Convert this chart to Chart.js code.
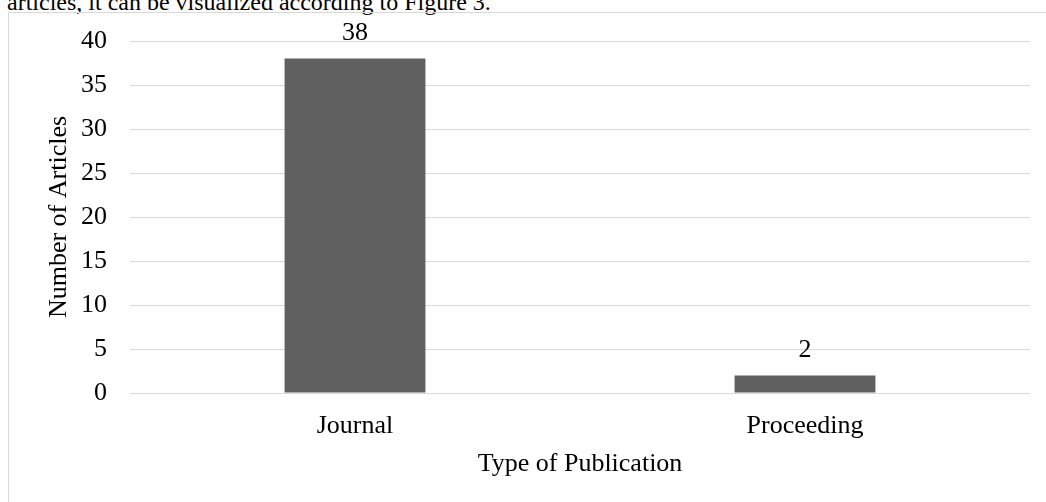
<!DOCTYPE html>
<html>
<head>
<meta charset="utf-8">
<script src="https://cdn.jsdelivr.net/npm/chart.js"></script>
<style>
    html, body { margin: 0; padding: 0; background: #fff; overflow: hidden; }
    body { width: 1046px; height: 502px; position: relative; }
    .lead {
        position: absolute; left: 7px; top: -10px;
        font: 24px/24px "Liberation Serif", "Times New Roman", serif;
        color: #000; white-space: nowrap;
    }
    .frame {
        position: absolute; left: 8px; top: 12px; width: 1100px; height: 600px;
        border-top: 1px solid #d9d9d9; border-left: 1px solid #d9d9d9;
    }
    #chartPublicaciones { position: absolute; left: 0; top: 0; }
</style>
</head>
<body>
<div class="lead">articles, it can be visualized according to Figure 3.</div>
<div class="frame"></div>
<canvas id="chartPublicaciones" width="1046" height="502"></canvas>
<script>
const categories = ["Journal", "Proceeding"];
const articleCounts = [38, 2];
const yTicks = [0, 5, 10, 15, 20, 25, 30, 35, 40];

const serif = "'Liberation Serif', 'Times New Roman', serif";

// numbers above each bar
const barValues = {
    id: "barValues",
    afterDatasetsDraw(chart) {
        const ctx = chart.ctx;
        const meta = chart.getDatasetMeta(0);
        ctx.save();
        ctx.font = "26px " + serif;
        ctx.fillStyle = "#000";
        ctx.textAlign = "center";
        ctx.textBaseline = "middle";
        meta.data.forEach((bar, i) => {
            ctx.fillText(String(articleCounts[i]), bar.x, bar.y - 25);
        });
        ctx.restore();
    }
};

new Chart(document.getElementById("chartPublicaciones"), {
    type: "bar",
    data: {
        labels: categories,
        datasets: [{
            data: articleCounts,
            backgroundColor: "#606060",
            categoryPercentage: 1,
            barPercentage: 0.313
        }]
    },
    options: {
        responsive: false,
        animation: false,
        layout: { padding: { top: 41, right: 16, left: 0, bottom: 0 } },
        plugins: {
            legend: { display: false },
            tooltip: { enabled: false }
        },
        scales: {
            x: {
                grid: { display: false, drawTicks: false },
                border: { display: false },
                ticks: { color: "#000", font: { family: serif, size: 26 }, padding: 18 },
                title: {
                    display: true,
                    text: "Type of Publication",
                    color: "#000",
                    font: { family: serif, size: 26 },
                    padding: { top: 0, bottom: 22 }
                },
                afterFit(scale) { scale.height = 109; }
            },
            y: {
                min: 0,
                max: 40,
                afterBuildTicks(scale) { scale.ticks = yTicks.map(v => ({ value: v })); },
                grid: { color: "#d9d9d9", lineWidth: 1, drawTicks: false },
                border: { display: false },
                ticks: { color: "#000", font: { family: serif, size: 26 }, padding: 23 },
                title: {
                    display: true,
                    text: "Number of Articles",
                    color: "#000",
                    font: { family: serif, size: 26 },
                    padding: { top: 44, bottom: 0 }
                },
                afterFit(scale) { scale.width = 130; }
            }
        }
    },
    plugins: [barValues]
});
</script>
</body>
</html>
